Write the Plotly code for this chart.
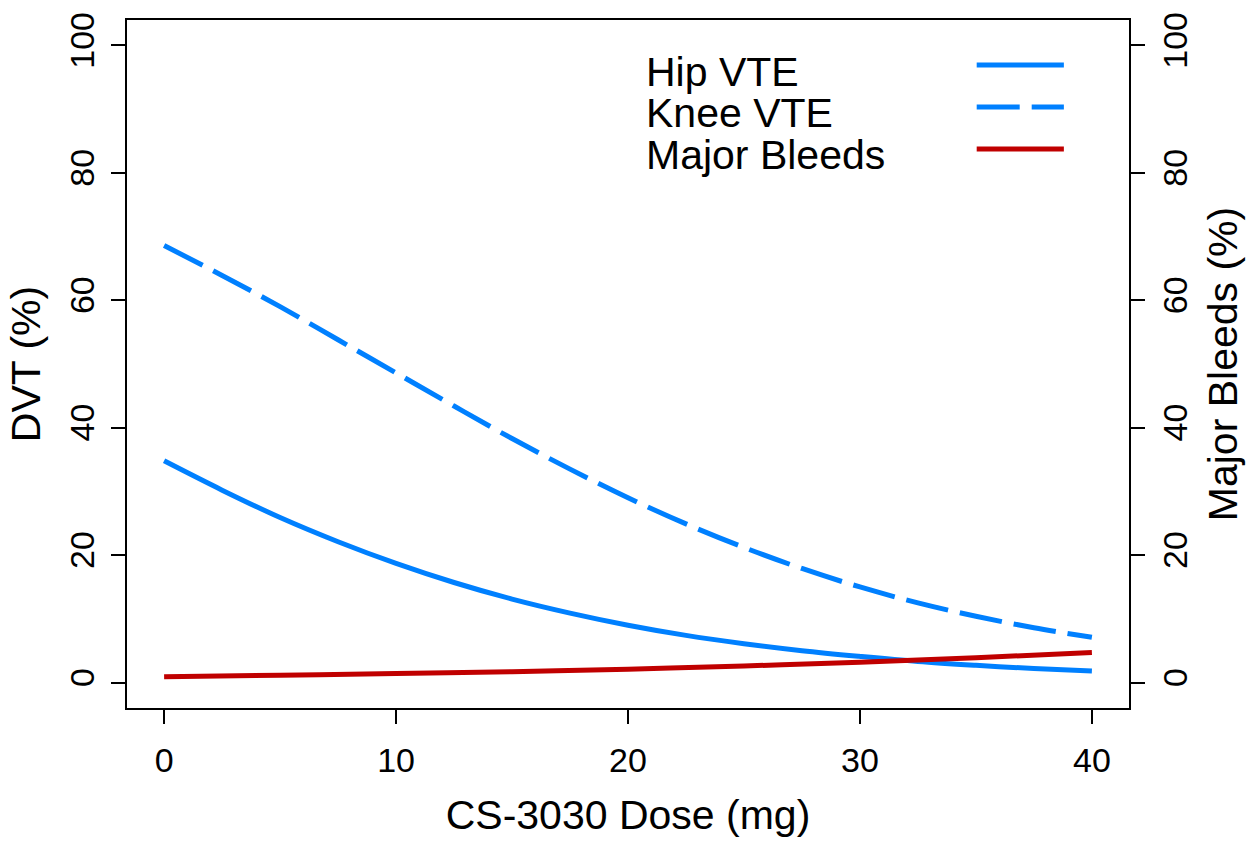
import plotly.graph_objects as go

# ---- data ----
dose = [0, 2.5, 5, 7.5, 10, 12.5, 15, 17.5, 20, 22.5, 25, 27.5, 30, 32.5, 35, 37.5, 40]
hip_vte = [34.8, 30.2, 25.9, 22.1, 18.7, 15.7, 13.1, 10.9, 9.0, 7.4, 6.1, 5.0, 4.1, 3.3, 2.7, 2.2, 1.8]
knee_vte = [68.6, 63.9, 59.0, 53.8, 48.6, 43.4, 38.3, 33.5, 29.0, 24.9, 21.2, 17.9, 15.0, 12.5, 10.4, 8.6, 7.1]
bleed_dose = [0, 5, 10, 15, 20, 25, 30, 35, 40]
major_bleeds = [0.9, 1.15, 1.4, 1.7, 2.1, 2.6, 3.2, 3.9, 4.7]

x_ticks = [0, 10, 20, 30, 40]
y_ticks = [0, 20, 40, 60, 80, 100]
legend_labels = ["Hip VTE", "Knee VTE", "Major Bleeds"]

BLUE = "#0080FF"
RED = "#C00000"
FONT = "Liberation Sans, Arial, Helvetica, sans-serif"
DASH = "43px,12px"

fig = go.Figure()
fig.add_trace(go.Scatter(x=dose, y=hip_vte, mode="lines", name=legend_labels[0],
                         line=dict(color=BLUE, width=5, shape="spline"), showlegend=False))
fig.add_trace(go.Scatter(x=dose, y=knee_vte, mode="lines", name=legend_labels[1],
                         line=dict(color=BLUE, width=5, dash=DASH, shape="spline"), showlegend=False))
fig.add_trace(go.Scatter(x=bleed_dose, y=major_bleeds, mode="lines", name=legend_labels[2],
                         line=dict(color=RED, width=5, shape="spline"), yaxis="y2", showlegend=False))

axis_common = dict(
    showgrid=False, zeroline=False, showline=True, linecolor="black", linewidth=2,
    ticks="outside", ticklen=14, tickwidth=1.5, tickcolor="black", automargin=False,
    tickfont=dict(family=FONT, size=34, color="black"),
)

fig.update_layout(
    width=1257, height=841,
    margin=dict(l=127, r=128, t=20, b=133, pad=0),
    plot_bgcolor="white", paper_bgcolor="white",
    font=dict(family=FONT, color="black"),
    xaxis=dict(range=[-1.6, 41.6], tickvals=x_ticks, mirror=True, ticklabelstandoff=7,
               title=dict(text="CS-3030 Dose (mg)", font=dict(family=FONT, size=41), standoff=23),
               **axis_common),
    yaxis=dict(range=[-4, 104], tickvals=y_ticks, tickangle=-90, mirror=True, ticklabelstandoff=3,
               title=dict(text="DVT (%)", font=dict(family=FONT, size=41), standoff=10),
               **axis_common),
    yaxis2=dict(range=[-4, 104], tickvals=y_ticks, tickangle=-90, overlaying="y", side="right",
                ticklabelstandoff=1,
                title=dict(text="Major Bleeds (%)", font=dict(family=FONT, size=41), standoff=16),
                **axis_common),
    showlegend=False,
)

# legend drawn R-style: labels on the left, line samples on the right
legend_y_text = [0.9249, 0.8644, 0.8038]
legend_y_line = [0.9346, 0.8735, 0.8125]
legend_styles = [dict(color=BLUE, width=5), dict(color=BLUE, width=5, dash=DASH), dict(color=RED, width=5)]
for lab, yt, yl, st in zip(legend_labels, legend_y_text, legend_y_line, legend_styles):
    fig.add_annotation(x=0.516, y=yt, xref="paper", yref="paper", text=lab, showarrow=False,
                       xanchor="left", yanchor="middle", font=dict(family=FONT, size=41, color="black"))
    fig.add_shape(type="line", xref="paper", yref="paper", x0=0.848, x1=0.935, y0=yl, y1=yl, line=st)

fig.write_html("out.html")
